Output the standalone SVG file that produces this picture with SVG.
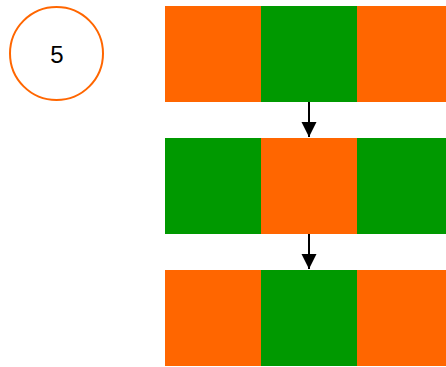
<svg xmlns="http://www.w3.org/2000/svg" width="446" height="367" viewBox="0 0 446 367">
<style>
.o{fill:#ff6600}
.g{fill:#009900}
.c{fill:none;stroke:#ff6600;stroke-width:2}
.t{font-family:"Liberation Sans",Arial,sans-serif;font-size:24px;fill:#000;text-anchor:middle}
.e{stroke:#000;stroke-width:2;fill:none}
</style>
<defs>
<marker id="ah" markerUnits="userSpaceOnUse" markerWidth="16" markerHeight="16" refX="15" refY="8" orient="auto">
<path d="M0,0.5 L15,8 L0,15.5 Z" fill="#000"/>
</marker>
</defs>
<g id="node-5">
<circle class="c" cx="56.5" cy="53.5" r="46.5"/>
<text class="t" x="57" y="63">5</text>
</g>
<g id="row1">
<rect class="o" x="165" y="6" width="96" height="96"/>
<rect class="g" x="261" y="6" width="96" height="96"/>
<rect class="o" x="357" y="6" width="89" height="96"/>
</g>
<g id="row2">
<rect class="g" x="165" y="138" width="96" height="96"/>
<rect class="o" x="261" y="138" width="96" height="96"/>
<rect class="g" x="357" y="138" width="89" height="96"/>
</g>
<g id="row3">
<rect class="o" x="165" y="270" width="96" height="96"/>
<rect class="g" x="261" y="270" width="96" height="96"/>
<rect class="o" x="357" y="270" width="89" height="96"/>
</g>
<g id="connectors">
<line class="e" x1="309" y1="102" x2="309" y2="137" marker-end="url(#ah)"/>
<line class="e" x1="309" y1="234" x2="309" y2="269" marker-end="url(#ah)"/>
</g>
</svg>
